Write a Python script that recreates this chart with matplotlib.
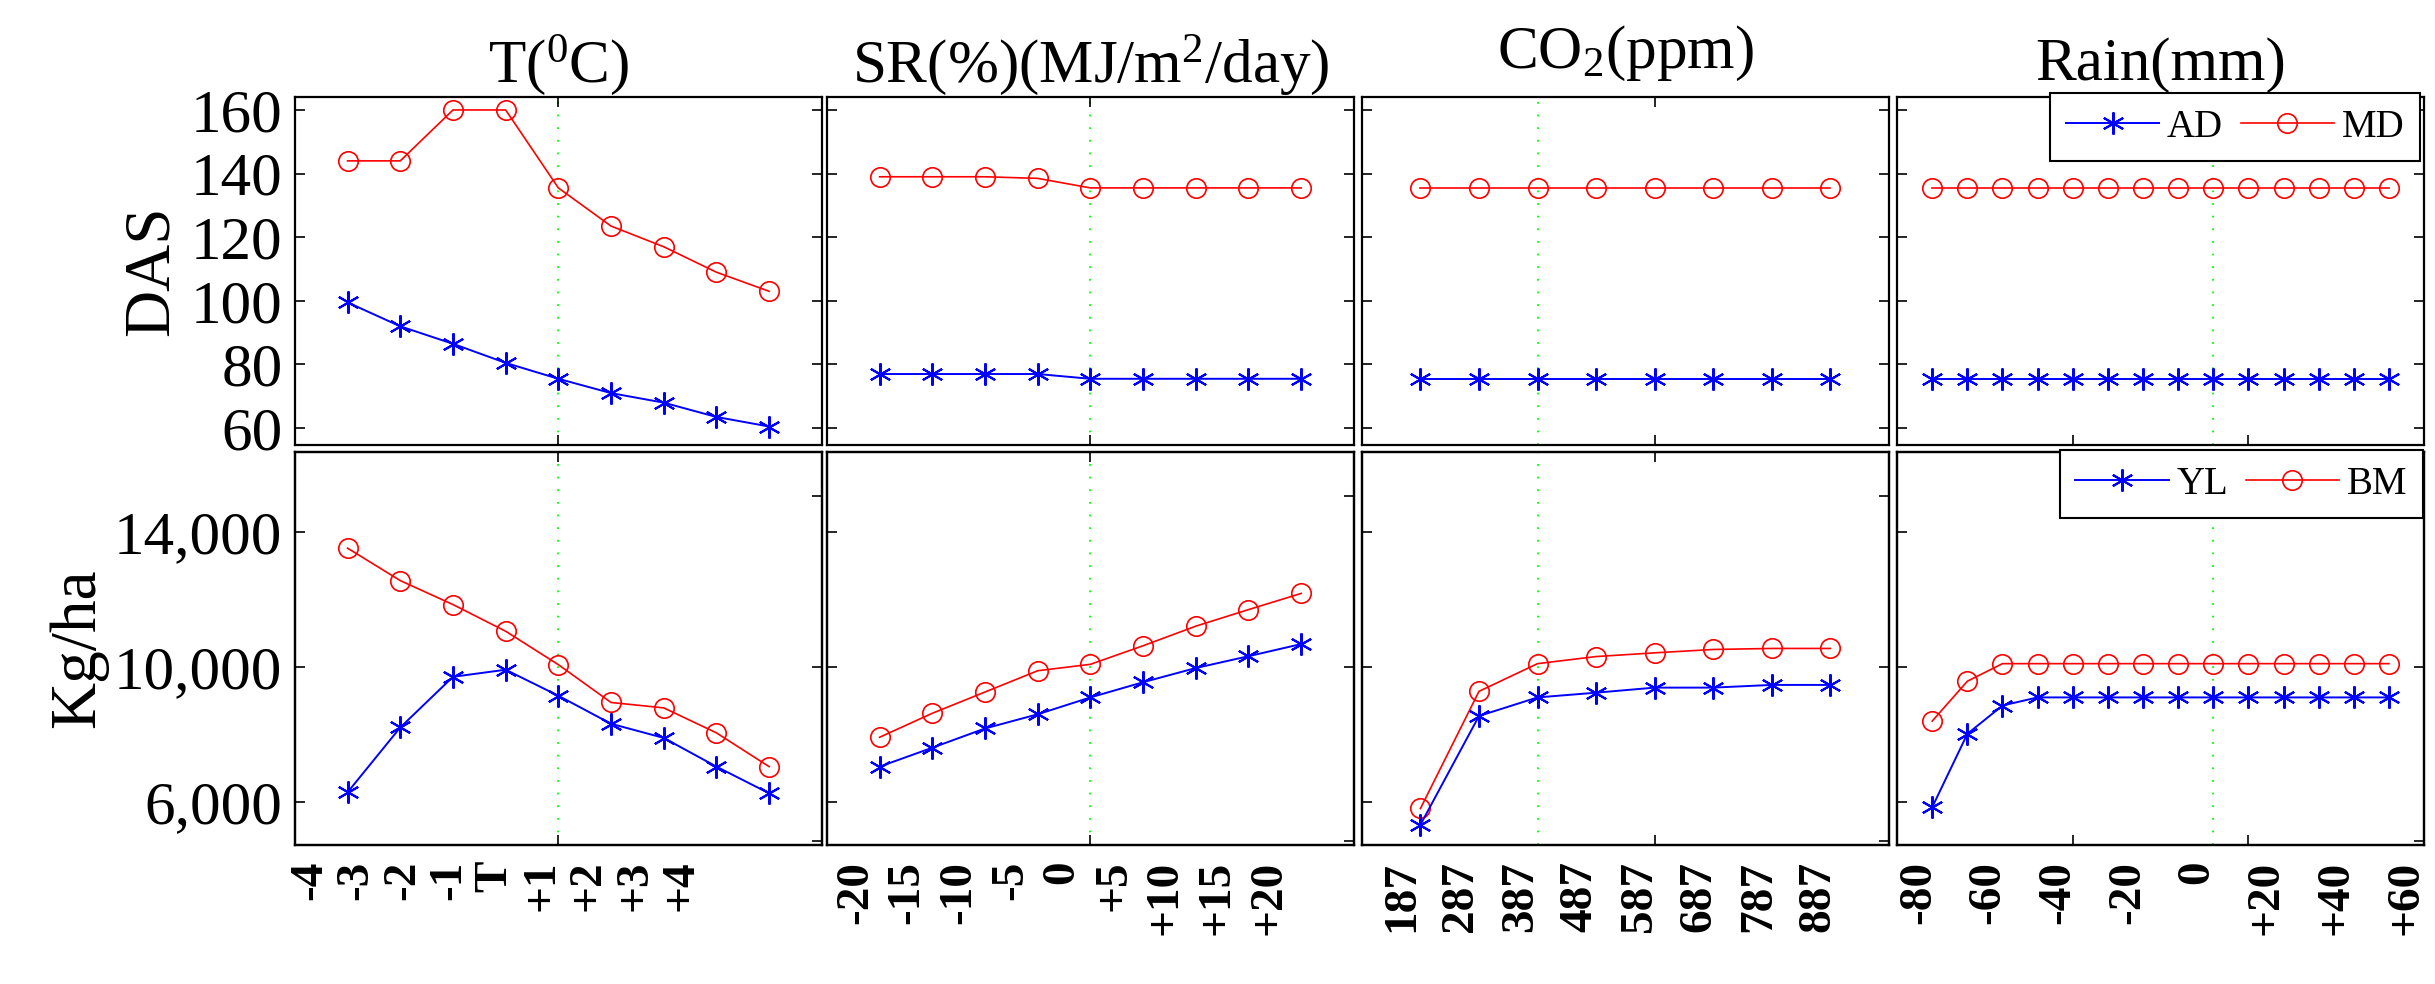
import numpy as np
import matplotlib.pyplot as plt
from matplotlib.ticker import MultipleLocator, FuncFormatter

plt.rcParams['font.family'] = 'Liberation Serif'
plt.rcParams['mathtext.fontset'] = 'custom'
plt.rcParams['mathtext.rm'] = 'Liberation Serif'
plt.rcParams['mathtext.it'] = 'Liberation Serif:italic'
plt.rcParams['mathtext.bf'] = 'Liberation Serif:bold'

# x categories
t_labels = ['-4', '-3', '-2', '-1', 'T', '+1', '+2', '+3', '+4']
sr_labels = ['-20', '-15', '-10', '-5', '0', '+5', '+10', '+15', '+20']
co2_ppm = [187, 287, 387, 487, 587, 687, 787, 887]
rain_mm = [-80, -70, -60, -50, -40, -30, -20, -10, 0, 10, 20, 30, 40, 50]
rain_labels = ['-80', '-60', '-40', '-20', '0', '+20', '+40', '+60']

# days after sowing (top row)
t_ad = [99.5, 92, 86.5, 80.5, 75.5, 71, 68, 63.5, 60.5]
t_md = [144, 144, 160, 160, 135.5, 123.5, 117, 109, 103]
sr_ad = [77, 77, 77, 77, 75.5, 75.5, 75.5, 75.5, 75.5]
sr_md = [139, 139, 139, 138.5, 135.5, 135.5, 135.5, 135.5, 135.5]
co2_ad = [75.5, 75.5, 75.5, 75.5, 75.5, 75.5, 75.5, 75.5]
co2_md = [135.5, 135.5, 135.5, 135.5, 135.5, 135.5, 135.5, 135.5]
rain_ad = [75.5, 75.5, 75.5, 75.5, 75.5, 75.5, 75.5, 75.5, 75.5, 75.5, 75.5, 75.5, 75.5, 75.5]
rain_md = [135.5, 135.5, 135.5, 135.5, 135.5, 135.5, 135.5, 135.5, 135.5, 135.5, 135.5, 135.5, 135.5, 135.5]

# yield and biomass, kg/ha (bottom row)
t_yl = [6290, 8210, 9710, 9920, 9150, 8320, 7900, 7050, 6260]
t_bm = [13520, 12560, 11850, 11060, 10070, 8950, 8790, 8050, 7050]
sr_yl = [7050, 7610, 8180, 8600, 9100, 9550, 9970, 10320, 10680]
sr_bm = [7920, 8630, 9260, 9890, 10080, 10630, 11210, 11700, 12180]
co2_yl = [5330, 8550, 9100, 9240, 9390, 9390, 9470, 9470]
co2_bm = [5810, 9280, 10100, 10310, 10420, 10520, 10550, 10550]
rain_yl = [5850, 8020, 8860, 9100, 9100, 9100, 9100, 9100, 9100, 9100, 9100, 9100, 9100, 9100]
rain_bm = [8400, 9580, 10100, 10100, 10100, 10100, 10100, 10100, 10100, 10100, 10100, 10100, 10100, 10100]

titles = [r'T($^0$C)', r'SR(%)(MJ/m$^2$/day)', r'CO$_2$(ppm)', 'Rain(mm)']
das_series = [(t_ad, t_md), (sr_ad, sr_md), (co2_ad, co2_md), (rain_ad, rain_md)]
kg_series = [(t_yl, t_bm), (sr_yl, sr_bm), (co2_yl, co2_bm), (rain_yl, rain_bm)]
tick_text = [t_labels, sr_labels, [str(v) for v in co2_ppm], rain_labels]
baseline = [5, 5, 3, 9]  # position of the reference scenario (green line)

# layout (figure fractions)
col_left = [0.1211, 0.3396, 0.5593, 0.7791]
col_w = 0.2164
row_bottom = [0.5478, 0.1413]
row_h = [0.3537, 0.3994]
title_pad = [1.5, 6, 21, 12]
lab_start = [0.0285, 0.0548, 0.076, 0.0418]
lab_step = [0.0882, 0.0981, 0.113, 0.132]

star = (6, 2, 0)
green = '#00ff00'
fs = 44

fig = plt.figure(figsize=(24.35, 9.84), dpi=100)

for c in range(4):
    n = len(das_series[c][0])
    x = np.arange(1, n + 1)
    for r in range(2):
        ax = fig.add_axes([col_left[c], row_bottom[r], col_w, row_h[r]])
        blue_y, red_y = (das_series if r == 0 else kg_series)[c]
        names = ('AD', 'MD') if r == 0 else ('YL', 'BM')
        ax.axvline(baseline[c], color=green, ls=(0, (1, 6)), lw=1.3, zorder=1)
        ax.plot(x, blue_y, color='b', marker=star, ms=16, mew=1.5, lw=1.4, label=names[0], zorder=3)
        ax.plot(x, red_y, color='r', marker='o', ms=14, mfc='none', mew=1.2, lw=1.2, label=names[1], zorder=2)
        ax.set_xlim(0, n + 1)
        ax.xaxis.set_major_locator(MultipleLocator(5))
        ax.tick_params(axis='x', bottom=True, top=True, labelbottom=False,
                       direction='in', length=7, width=1.2)
        for s in ax.spines.values():
            s.set_linewidth(1.6)

        if r == 0:
            ax.set_ylim(54.7, 164.1)
            ax.set_yticks([60, 80, 100, 120, 140, 160])
            ax.tick_params(axis='y', left=True, right=True, direction='in',
                           length=7, width=1.2, labelsize=fs, pad=9)
            ax.set_title(titles[c], fontsize=fs, pad=title_pad[c])
            if c != 0:
                ax.tick_params(axis='y', labelleft=False)
            else:
                ax.set_ylabel('DAS', fontsize=fs + 3)
                ax.yaxis.set_label_coords(-0.215, 0.5)
            top = ax
        else:
            ax.set_ylim(4730, 16370)
            ax.set_yticks([6000, 10000, 14000])
            ax.yaxis.set_major_formatter(FuncFormatter(lambda v, p: f'{v:,.0f}'))
            ax.tick_params(axis='y', left=True, right=False, direction='in',
                           length=7, width=1.2, labelsize=fs, pad=9)
            ax2 = ax.twinx()
            ax2.set_ylim(ax.get_ylim())
            ax2.set_yticks([4840, 10000, 15070])
            ax2.tick_params(axis='y', direction='in', length=7, width=1.2, labelright=False)
            for s in ax2.spines.values():
                s.set_linewidth(1.6)
            if c != 0:
                ax.tick_params(axis='y', labelleft=False)
            else:
                ax.set_ylabel('Kg/ha', fontsize=fs + 3)
                ax.yaxis.set_label_coords(-0.355, 0.5)
            for k, lab in enumerate(tick_text[c]):
                ax.text(lab_start[c] + lab_step[c] * k, -0.04, lab, rotation=90,
                        ha='center', va='top', fontsize=34, fontweight='bold',
                        transform=ax.transAxes, clip_on=False)
            bottom_ax, bottom_top = ax, ax2

        if c == 3:
            host = top if r == 0 else bottom_top
            src = top if r == 0 else bottom_ax
            h, l = src.get_legend_handles_labels()
            anchor = (0.992, 1.011) if r == 0 else (0.998, 1.005)
            leg = host.legend(h, l, loc='upper right', bbox_to_anchor=anchor, ncol=2,
                              fontsize=28, frameon=True, fancybox=False, edgecolor='k',
                              framealpha=1, handlelength=2.4, handletextpad=0.2,
                              columnspacing=0.45, borderaxespad=0, borderpad=0.4)
            leg.get_frame().set_linewidth(1.5)

fig.savefig('out.png', dpi=100)
